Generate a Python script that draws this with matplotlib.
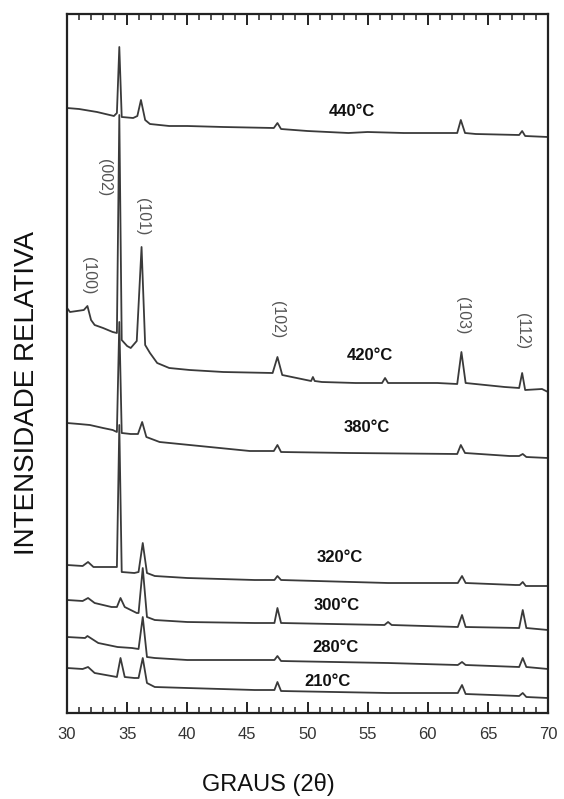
import matplotlib
matplotlib.use("Agg")
import matplotlib.pyplot as plt
from matplotlib.ticker import MultipleLocator

plt.rcParams["font.family"] = ["Liberation Sans", "DejaVu Sans"]

LINE = "#3a3a3a"

# XRD traces (2theta in degrees, relative intensity in arb. units)
X_440 = [30.0, 31.0, 32.5, 33.9, 34.15, 34.35, 34.55, 35.5, 35.85, 36.15, 36.5, 36.9, 38.5, 40.0,
         43.0, 47.2, 47.5, 47.8, 50.0, 53.4, 55.0, 58.0, 62.45, 62.75, 63.1, 64.0, 67.6, 67.85, 68.1, 70.0]
I_440 = [605, 604, 601, 597, 600, 666, 596, 595, 597, 613, 593, 589, 587, 587,
         586, 585, 590, 584, 582, 580, 581, 580, 580, 593, 580, 579, 578, 582, 577, 576]

X_420 = [30.0, 30.25, 31.4, 31.7, 32.0, 32.3, 33.0, 33.8, 34.15, 34.35, 34.55, 35.0, 35.3, 35.8,
         36.2, 36.5, 36.9, 37.5, 38.5, 40.2, 43.0, 47.1, 47.5, 47.9, 50.3, 50.45, 50.6, 51.2, 54.0,
         56.2, 56.45, 56.7, 60.8, 62.45, 62.8, 63.15, 66.4, 67.6, 67.85, 68.1, 69.5, 70.0]
I_420 = [405, 401, 403, 407, 393, 388, 385, 381, 380, 598, 373, 367, 365, 372,
         466, 368, 360, 350, 345, 343, 341, 340, 356, 338, 332, 336, 332, 331, 330,
         330, 335, 330, 330, 329, 361, 330, 326, 325, 340, 323, 324, 321]

X_380 = [30.0, 31.0, 31.9, 33.0, 33.8, 34.15, 34.35, 34.55, 35.3, 35.9, 36.25, 36.6, 37.7, 40.2,
         45.2, 47.2, 47.5, 47.8, 53.5, 62.45, 62.75, 63.1, 66.8, 67.6, 67.9, 68.2, 70.0]
I_380 = [290, 289, 288, 285, 283, 281, 391, 280, 279, 279, 291, 276, 271, 268,
         262, 262, 268, 261, 260, 259, 268, 260, 257, 257, 259, 256, 255]

X_320 = [30.0, 31.3, 31.75, 32.2, 33.9, 34.15, 34.35, 34.55, 35.6, 35.95, 36.3, 36.65, 37.3, 40.0,
         45.6, 47.25, 47.5, 47.8, 56.7, 62.5, 62.85, 63.15, 67.3, 67.65, 67.9, 68.15, 70.0]
I_320 = [148, 147, 151, 146, 146, 146, 288, 141, 140, 141, 170, 140, 137, 135,
         133, 133, 137, 133, 130, 130, 137, 130, 128, 128, 131, 127, 127]

X_300 = [30.0, 31.3, 31.75, 32.3, 33.7, 34.15, 34.45, 34.8, 35.8, 35.95, 36.3, 36.65, 37.3, 40.0,
         45.6, 47.25, 47.5, 47.8, 56.4, 56.7, 57.0, 62.5, 62.85, 63.15, 67.6, 67.9, 68.2, 70.0]
I_300 = [113, 112, 115, 110, 106, 106, 115, 106, 100, 100, 145, 96, 93, 91,
         90, 90, 105, 90, 88, 91, 88, 86, 98, 86, 85, 103, 85, 83]

X_280 = [30.0, 31.5, 31.7, 32.6, 34.2, 35.4, 35.95, 36.3, 36.65, 37.3, 40.0, 47.25, 47.5, 47.8,
         56.7, 62.5, 62.85, 63.15, 67.6, 67.9, 68.2, 70.0]
I_280 = [76, 75, 77, 70, 66, 65, 64, 96, 56, 55, 53, 53, 57, 52,
         50, 48, 51, 48, 46, 55, 46, 44]

X_210 = [30.0, 31.3, 31.75, 32.3, 34.15, 34.45, 34.8, 35.6, 35.95, 36.3, 36.65, 37.3, 40.0, 45.6,
         47.25, 47.5, 47.8, 56.7, 62.5, 62.85, 63.15, 67.6, 67.9, 68.2, 70.0]
I_210 = [45, 44, 46, 40, 36, 55, 36, 35, 35, 55, 30, 26, 25, 23,
         23, 31, 22, 20, 20, 28, 19, 17, 20, 16, 15]

TRACES = [(X_440, I_440), (X_420, I_420), (X_380, I_380), (X_320, I_320),
          (X_300, I_300), (X_280, I_280), (X_210, I_210)]

TEMP_LABELS = ["440°C", "420°C", "380°C", "320°C", "300°C", "280°C", "210°C"]
TEMP_X = [53.7, 55.2, 54.95, 52.7, 52.45, 52.3, 51.7]
TEMP_Y = [601, 358, 285, 155, 108, 66, 31]

HKL_LABELS = ["(100)", "(002)", "(101)", "(102)", "(103)", "(112)"]
HKL_X = [31.75, 33.08, 36.24, 47.54, 62.85, 67.84]
HKL_Y = [437, 535, 496, 393, 397, 382]

fig = plt.figure(figsize=(5.64, 7.99), dpi=100)
ax = fig.add_axes([67 / 564, 86 / 799, 481 / 564, 699 / 799])

for xs, ys in TRACES:
    ax.plot(xs, ys, color=LINE, lw=1.3, solid_joinstyle="round")

for lab, x, y in zip(TEMP_LABELS, TEMP_X, TEMP_Y):
    ax.text(x, y, lab, ha="center", va="center", fontsize=12, fontweight="bold", color="#111111")

for lab, x, y in zip(HKL_LABELS, HKL_X, HKL_Y):
    ax.text(x, y, lab, ha="center", va="center", rotation=270, fontsize=11.5, color="#555555")

ax.set_xlim(30, 70)
ax.set_ylim(0, 699)
ax.xaxis.set_major_locator(MultipleLocator(5))
ax.xaxis.set_minor_locator(MultipleLocator(1))
ax.tick_params(axis="x", which="both", direction="in", top=True, bottom=True, colors="#222222",
               labelcolor="#333333", labelsize=12, pad=10)
ax.tick_params(axis="x", which="major", length=8, width=1.4)
ax.tick_params(axis="x", which="minor", length=4, width=1.1)
ax.set_yticks([])
for sp in ax.spines.values():
    sp.set_linewidth(1.6)
    sp.set_color("#222222")

fig.text(268 / 564, 1 - 784 / 799, "GRAUS (2θ)", ha="center", va="center", fontsize=17, color="#111111")
fig.text(27 / 564, 1 - 393 / 799, "INTENSIDADE RELATIVA", ha="center", va="center",
         rotation=90, fontsize=20, color="#111111")

fig.savefig("out.png", dpi=100)
